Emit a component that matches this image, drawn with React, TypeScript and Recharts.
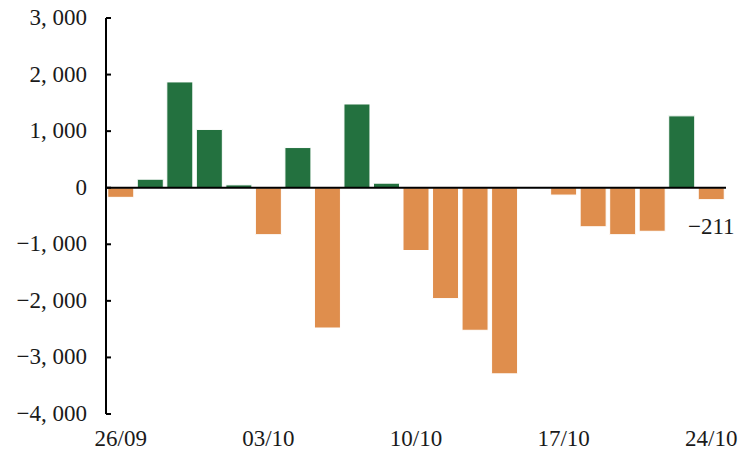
import { BarChart, Bar, XAxis, YAxis, Cell, ReferenceLine, LabelList } from 'recharts';

const dates = [
  '26/09', '27/09', '28/09', '29/09', '30/09',
  '03/10', '04/10', '05/10', '06/10', '07/10',
  '10/10', '11/10', '12/10', '13/10', '14/10',
  '17/10', '18/10', '19/10', '20/10', '21/10',
  '24/10',
];
const values = [
  -170, 150, 1870, 1030, 50,
  -830, 710, -2480, 1480, 80,
  -1110, -1960, -2520, -3290, -15,
  -130, -690, -830, -770, 1270,
  -211,
];
const yTicks = [-4000, -3000, -2000, -1000, 0, 1000, 2000, 3000];

const GREEN = '#23713F';
const ORANGE = '#DF8E4D';
const FONT = "'Liberation Serif', serif";

const data = dates.map((d, i) => ({ date: d, value: values[i] }));

const fmt = (v: number) => {
  const s = Math.abs(v).toLocaleString('en-US').replace(',', ', ');
  return v < 0 ? '\u2212' + s : s;
};

const txt = { fontFamily: FONT, fontSize: 23 };

const YTick = (props: any) => {
  const { x, y, payload } = props;
  return (
    <g>
      <line x1={x + 12} x2={x + 17} y1={y} y2={y} stroke="#000" strokeWidth={2} />
      <text x={x - 7} y={y} dy={7} textAnchor="end" style={txt} fill="#1a1a1a">
        {fmt(payload.value)}
      </text>
    </g>
  );
};

const XTick = (props: any) => {
  const { x, y, payload } = props;
  return (
    <text x={x} y={y} dy={24} textAnchor="middle" style={txt} fill="#1a1a1a">
      {payload.value}
    </text>
  );
};

const LastLabel = (props: any) => {
  const { x, y, width, height, index, value } = props;
  if (index !== values.length - 1) return null;
  return (
    <text x={x + width / 2} y={y + height + 46} textAnchor="middle" style={txt} fill="#1a1a1a">
      {fmt(value)}
    </text>
  );
};

export default function App() {
  return (
    <div style={{ position: 'absolute', left: 0, top: 0, background: '#fff' }}>
      <BarChart
        width={745}
        height={459}
        data={data}
        margin={{ top: 18, right: 19, left: 0, bottom: 0 }}
        barCategoryGap="6%"
      >
        <XAxis
          dataKey="date"
          axisLine={false}
          tickLine={false}
          interval={4}
          height={45}
          tick={<XTick />}
        />
        <YAxis
          domain={[-4000, 3000]}
          ticks={yTicks}
          width={106}
          axisLine={{ stroke: '#000', strokeWidth: 2 }}
          tickLine={false}
          tickSize={0}
          tickMargin={12}
          tick={<YTick />}
          interval={0}
        />
        <Bar dataKey="value" isAnimationActive={false} stroke="#fff" strokeWidth={1}>
          {data.map((d, i) => (
            <Cell key={i} fill={d.value >= 0 ? GREEN : ORANGE} />
          ))}
          <LabelList dataKey="value" content={<LastLabel />} />
        </Bar>
        <ReferenceLine y={0} stroke="#000" strokeWidth={2} />
      </BarChart>
    </div>
  );
}
